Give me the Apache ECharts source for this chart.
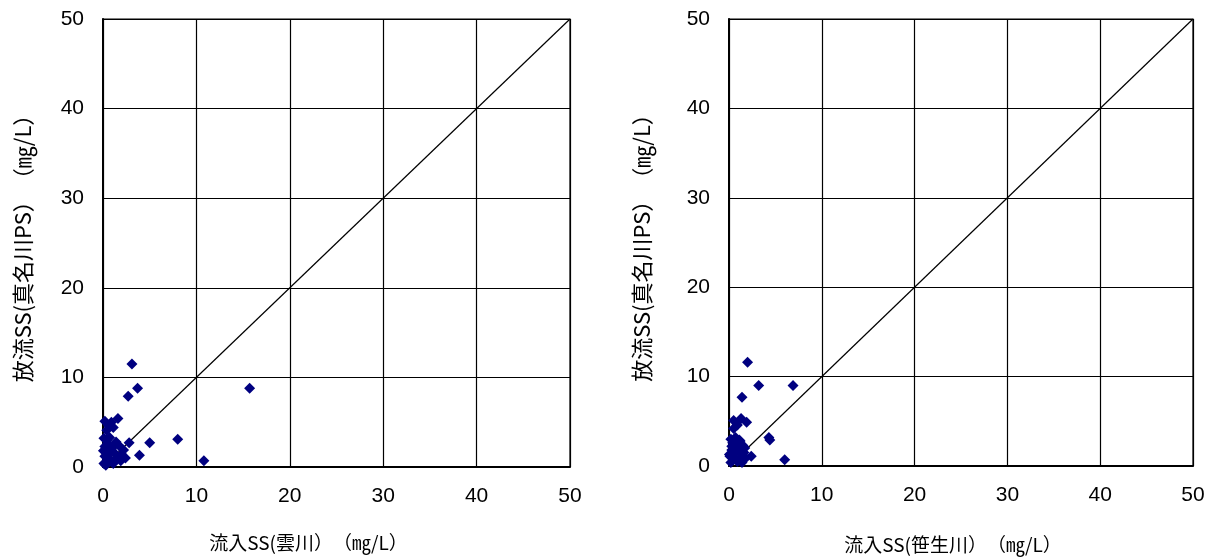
<!DOCTYPE html>
<html><head><meta charset="utf-8">
<script src="https://cdn.jsdelivr.net/npm/echarts@6/dist/echarts.min.js"></script>
<style>html,body{margin:0;padding:0;background:#fff}#c{width:1215px;height:560px}</style>
</head><body><div id="c"></div>
<script>
const xTicks = [0, 10, 20, 30, 40, 50];
const leftXName = '流入SS(雲川）　（㎎/L）';
const rightXName = '流入SS(笹生川）　（㎎/L）';
const yName = '放流SS(真名川PS）　（㎎/L）';
const diagonal = [[0, 0], [50, 50]];
// 雲川 vs 真名川PS
const kumoData = [
  [3.1, 11.5], [3.7, 8.8], [2.7, 7.9], [15.7, 8.8],
  [0.2, 5.1], [1.6, 5.4], [0.9, 5.0], [0.6, 4.6], [1.1, 4.4], [0.4, 4.1],
  [2.8, 2.7], [5.0, 2.7], [8.0, 3.1], [3.9, 1.3], [10.8, 0.7], [2.4, 1.0],
  [0.1, 0.4], [0.2, 1.2], [0.3, 2.0], [0.5, 2.6], [0.6, 1.5], [0.8, 0.8],
  [1.0, 2.2], [1.2, 1.6], [1.4, 2.8], [1.5, 1.0], [1.7, 2.4], [2.0, 1.4],
  [2.2, 1.9], [0.2, 2.3], [0.4, 3.0], [0.7, 3.3], [1.1, 0.4], [0.3, 0.2],
  [1.9, 0.7], [0.9, 1.9], [0.05, 1.8], [0.1, 3.2], [0.5, 0.9], [1.3, 2.5]
];
// 笹生川 vs 真名川PS
const sasoData = [
  [2.0, 11.6], [3.2, 9.0], [6.9, 9.0], [1.4, 7.7],
  [0.5, 5.1], [1.3, 5.3], [1.9, 4.9], [0.5, 4.2], [0.9, 4.6],
  [4.3, 3.2], [4.4, 2.9], [6.0, 0.7], [2.4, 1.1],
  [0.1, 1.1], [0.2, 0.4], [0.3, 1.8], [0.4, 2.6], [0.5, 0.8], [0.6, 1.4],
  [0.8, 2.1], [0.9, 0.5], [1.0, 1.7], [1.2, 2.8], [1.3, 1.0], [1.5, 2.3],
  [1.6, 1.5], [1.8, 0.9], [0.2, 3.0], [0.7, 3.2], [1.1, 2.9], [0.3, 2.2],
  [1.4, 0.4], [0.6, 1.9], [0.05, 1.3], [1.7, 2.0]
];

const FONT = '"Noto Sans CJK JP", sans-serif';
const NUMFONT = '"Liberation Sans", Arial, sans-serif';
function xAxis(idx, name, gap, pad) {
  return {
    gridIndex: idx, type: 'value', min: 0, max: 50, interval: 10,
    name: name, nameLocation: 'middle', nameGap: gap,
    nameTextStyle: { color: '#000', fontSize: 19, fontFamily: FONT, padding: pad },
    axisLine: { lineStyle: { color: '#000', width: 2 } },
    axisTick: { show: false },
    axisLabel: { color: '#000', fontSize: 21, fontFamily: NUMFONT, margin: 19,
      formatter: v => xTicks.includes(v) ? String(v) : '' },
    splitLine: { show: true, lineStyle: { color: '#000', width: 1.2 } }
  };
}
function yAxis(idx, gap) {
  return {
    gridIndex: idx, type: 'value', min: 0, max: 50, interval: 10,
    name: yName, nameLocation: 'middle', nameGap: gap, nameRotate: 90,
    nameTextStyle: { color: '#000', fontSize: 22, fontFamily: FONT },
    axisLine: { show: true, lineStyle: { color: '#000', width: 2 } },
    axisTick: { show: false },
    axisLabel: { color: '#000', fontSize: 21, fontFamily: NUMFONT, margin: 19 },
    splitLine: { show: true, lineStyle: { color: '#000', width: 1.2 } }
  };
}
const scatterStyle = { color: '#000080', opacity: 1 };
const chart = echarts.init(document.getElementById('c'), null, { renderer: 'canvas' });
chart.setOption({
  animation: false,
  backgroundColor: '#fff',
  grid: [
    { left: 103, right: 645, top: 19, bottom: 93, show: true, borderColor: '#000', borderWidth: 1.2 },
    { left: 729, right: 22, top: 19, bottom: 94, show: true, borderColor: '#000', borderWidth: 1.2 }
  ],
  xAxis: [xAxis(0, leftXName, 66, [0, 56, 0, 0]), xAxis(1, rightXName, 69, [0, 16, 0, 0])],
  yAxis: [yAxis(0, 69), yAxis(1, 76)],
  series: [
    { type: 'line', xAxisIndex: 0, yAxisIndex: 0, data: diagonal, symbol: 'none', lineStyle: { color: '#000', width: 1.2 }, z: 1 },
    { type: 'line', xAxisIndex: 1, yAxisIndex: 1, data: diagonal, symbol: 'none', lineStyle: { color: '#000', width: 1.2 }, z: 1 },
    { type: 'scatter', xAxisIndex: 0, yAxisIndex: 0, data: kumoData, symbol: 'diamond', symbolSize: 11, itemStyle: scatterStyle, z: 3 },
    { type: 'scatter', xAxisIndex: 1, yAxisIndex: 1, data: sasoData, symbol: 'diamond', symbolSize: 11, itemStyle: scatterStyle, z: 3 }
  ]
});
</script></body></html>
